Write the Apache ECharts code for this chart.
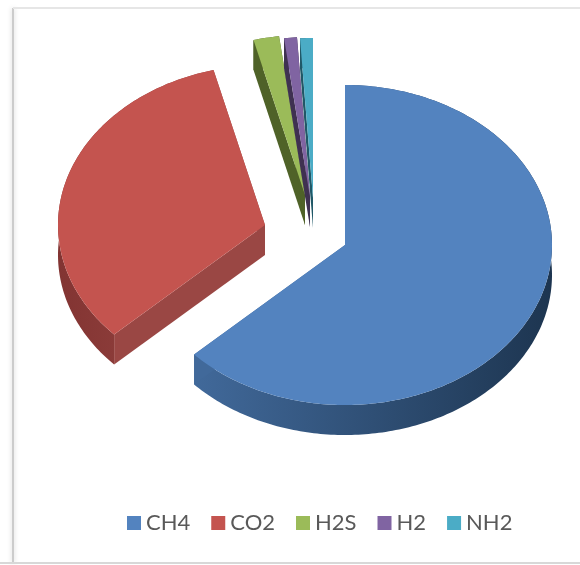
<!DOCTYPE html>
<html><head><meta charset="utf-8">
<style>html,body{margin:0;padding:0;background:#fff}#c{width:580px;height:565px;filter:blur(0.6px)}</style>
<script src="https://cdn.jsdelivr.net/npm/echarts@6/dist/echarts.min.js"></script>
</head><body><div id="c"></div>
<script>
const categories = ['CH4','CO2','H2S','H2','NH2'];
const values = [63,33,2,1,1];
const topColors = ['#5383bf','#c4544f','#9bbb59','#8064a2','#4bacc6'];
const sideLight = ['#41699a','#9a4744','#4f6228','#3f3151','#205867'];
const sideDark = ['#1d3550','#823432','#4f6228','#3f3151','#205867'];
// apex of each exploded slice on screen
const apexX = [345,265,305,310,313];
const apexY = [245,225,195,197,198];
const RX = 207, RY = 160, DEPTH = 30;
const total = values.reduce((a,b)=>a+b,0);

function startOf(i){ let s=0; for(let k=0;k<i;k++) s+=values[k]; return s/total*Math.PI*2; }

function makeRender(i){
  return function(params, api){
    const v = api.value(0);
    const a0 = startOf(i), a1 = a0 + v/total*Math.PI*2;
    const cx = apexX[i], cy = apexY[i];
    const arc = [];
    const n = Math.max(4, Math.ceil((a1-a0)*60));
    for(let k=0;k<=n;k++){
      const a = a0+(a1-a0)*k/n;
      arc.push([cx+RX*Math.sin(a), cy-RY*Math.cos(a)]);
    }
    const first = arc[0], last = arc[arc.length-1];
    const band = arc.concat(arc.slice().reverse().map(p=>[p[0],p[1]+DEPTH]));
    const grad = {type:'linear',x:0,y:0,x2:1,y2:0,colorStops:
      i===0 ? [{offset:0,color:sideLight[i]},{offset:1,color:sideDark[i]}]
            : [{offset:0,color:sideDark[i]},{offset:1,color:sideLight[i]}]};
    const face = p => ({type:'polygon',shape:{points:[[cx,cy],p,[p[0],p[1]+DEPTH],[cx,cy+DEPTH]]},
      style:{fill:sideLight[i]},silent:true});
    return {type:'group',children:[
      {type:'polygon',shape:{points:band},style:{fill:grad},silent:true},
      face(first), face(last),
      {type:'polygon',shape:{points:[[cx,cy]].concat(arc)},style:{fill:topColors[i]},silent:true}
    ]};
  };
}

const chart = echarts.init(document.getElementById('c'),null,{renderer:'canvas'});
chart.setOption({
  animation:false,
  backgroundColor:'#fff',
  legend:{
    left:122,top:507,itemWidth:14,itemHeight:14,itemGap:21,icon:'rect',
    selectedMode:false,
    data:categories,
    textStyle:{color:'#595959',fontFamily:'Lato',fontSize:22}
  },
  graphic:[
    {type:'line',shape:{x1:13,y1:8,x2:13,y2:563},style:{stroke:'#cccccc',lineWidth:2,shadowBlur:5,shadowColor:'#ccc'},silent:true},
    {type:'line',shape:{x1:13,y1:8,x2:580,y2:8},style:{stroke:'#e6e6e6',lineWidth:2},silent:true},
    {type:'line',shape:{x1:0,y1:563,x2:580,y2:563},style:{stroke:'#d8d8d8',lineWidth:2},silent:true}
  ],
  series:categories.map((name,i)=>({
    type:'custom',name,coordinateSystem:'none',
    data:[values[i]],
    itemStyle:{color:topColors[i]},
    renderItem:makeRender(i),
    silent:true
  }))
});
</script></body></html>
